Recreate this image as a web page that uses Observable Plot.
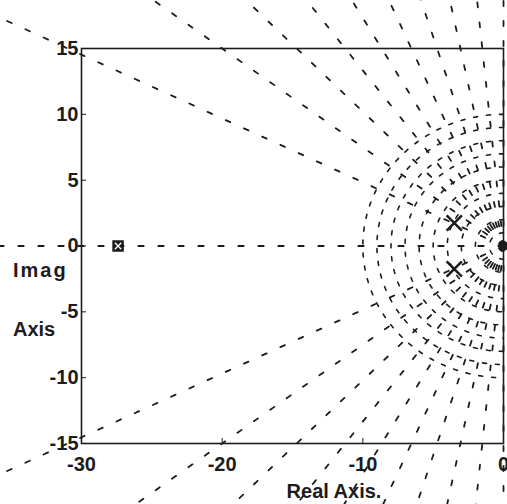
<!DOCTYPE html>
<html><head><meta charset="utf-8">
<script src="https://cdn.jsdelivr.net/npm/d3@7"></script>
<script src="https://cdn.jsdelivr.net/npm/@observablehq/plot@0.6"></script>
<style>body{margin:0;background:#fff}</style>
</head><body><div id="chart"></div>
<script>
// s-plane grid: damping ratios (rays) and natural frequencies (half circles)
const zetas = [0, 0.1, 0.2, 0.3, 0.4, 0.5, 0.6, 0.7, 0.8, 0.9, 1];
const wns = [1, 2, 3, 4, 5, 6, 7, 8, 9, 10];
const rayLength = 40;
// poles (x) and zero (square)
const poleRe = [-3.5, -3.5];
const poleIm = [1.75, -1.75];
const originRe = [0];
const originIm = [0];
const zeroRe = [-27.4];
const zeroIm = [0];
// axis ticks
const xTicks = [-30, -20, -10, 0];
const yTicks = [-15, -10, -5, 0, 5, 10, 15];

const rays = [];
zetas.forEach((z, i) => {
  [1, -1].forEach(s => {
    const id = i + "_" + s;
    rays.push({id, re: 0, im: 0});
    rays.push({id, re: -rayLength * z, im: s * rayLength * Math.sqrt(1 - z * z)});
  });
});
const arcs = [];
wns.forEach(w => {
  for (let a = 90; a <= 270; a += 2) {
    const t = a * Math.PI / 180;
    arcs.push({wn: w, re: w * Math.cos(t), im: w * Math.sin(t)});
  }
});
const poles = poleRe.map((r, i) => ({re: r, im: poleIm[i]}));
const origin = originRe.map((r, i) => ({re: r, im: originIm[i]}));
const zeros = zeroRe.map((r, i) => ({re: r, im: zeroIm[i]}));

const ink = "#1c1c1c";
const font = "'Liberation Sans', Arial, sans-serif";
const plot = Plot.plot({
  width: 507, height: 504,
  marginLeft: 81, marginRight: 4, marginTop: 48, marginBottom: 61,
  x: {domain: [-30, 0]},
  y: {domain: [-15, 15]},
  style: {fontFamily: font, fontSize: "20px", fontWeight: "bold", color: ink, background: "#fff"},
  marks: [
    Plot.line(rays, {x: "re", y: "im", z: "id", stroke: ink, strokeWidth: 1.8, strokeDasharray: "5,15"}),
    Plot.line(arcs, {x: "re", y: "im", z: "wn", stroke: ink, strokeWidth: 1.6, strokeDasharray: "4,9"}),
    Plot.frame({stroke: ink, strokeWidth: 1.6}),
    Plot.axisX(xTicks, {tickSize: 5, insetBottom: 5, tickPadding: 13, label: null, tickFormat: d => `${d}`}),
    Plot.axisY(yTicks, {tickSize: 5, insetLeft: 5, tickPadding: 3, label: null, tickFormat: d => `${d}`}),
    Plot.dot(poles, {x: "re", y: "im", symbol: "times", r: 7, stroke: ink, strokeWidth: 2.5}),
    Plot.dot(zeros, {x: "re", y: "im", symbol: "square", r: 6.5, fill: ink}),
    Plot.dot(zeros, {x: "re", y: "im", symbol: "times", r: 3, stroke: "#fff", strokeWidth: 1.3}),
    Plot.dot(origin, {x: "re", y: "im", r: 5, fill: ink})
  ]
});
document.getElementById("chart").appendChild(plot);
const svg = d3.select(plot);
const lab = (x, y, t, anchor, ls) => svg.append("text").attr("x", x).attr("y", y)
  .attr("text-anchor", anchor || "start").attr("font-family", font)
  .attr("letter-spacing", ls || 0)
  .attr("font-size", 20).attr("font-weight", "bold").attr("fill", ink).text(t);
lab(13, 277, "Imag", "start", 2);
lab(13, 336, "Axis");
lab(334, 498, "Real Axis.", "middle");
</script>
</body></html>
